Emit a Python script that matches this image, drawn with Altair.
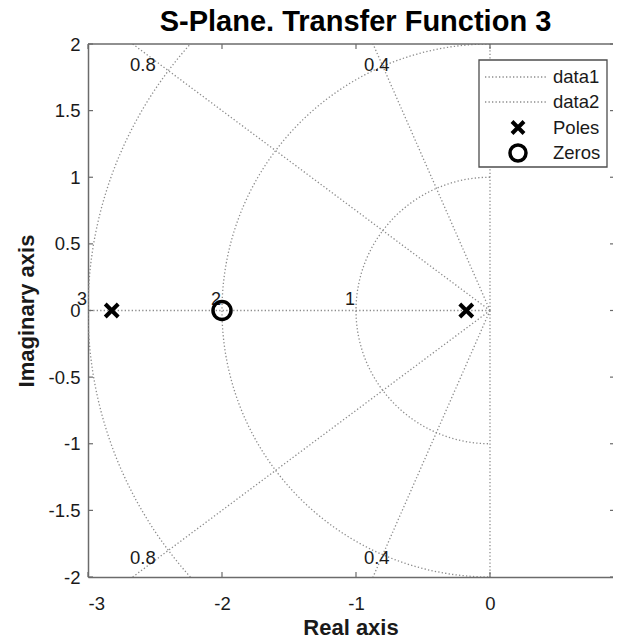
import numpy as np
import pandas as pd
import altair as alt

# ---- data ----
pole_re = [-2.823, -0.177]
pole_im = [0.0, 0.0]
zero_re = [-2.0]
zero_im = [0.0]

zeta_values = [0.4, 0.8]          # labelled damping lines
wn_values = [1, 2, 3]             # natural-frequency circles
x_ticks = [-3, -2, -1, 0]
y_ticks = [-2, -1.5, -1, -0.5, 0, 0.5, 1, 1.5, 2]

zeta_label_text = ["0.8", "0.4", "0.8", "0.4"]
zeta_label_x = [-2.59, -0.845, -2.59, -0.845]
zeta_label_y = [1.84, 1.84, -1.86, -1.86]

legend_labels = ["data1", "data2", "Poles", "Zeros"]

# ---- layout ----
W, H = 525, 533
FONT = "Liberation Sans"
GRID_COLOR = "#8c8c8c"
FRAME_COLOR = "#6b6b6b"
TXT = "#1a1a1a"

xs = alt.Scale(domain=[-3, 0.918], nice=False, zero=False)
ys = alt.Scale(domain=[-2, 2], nice=False, zero=False)

xaxis = alt.Axis(values=x_ticks, labelExpr="datum.value + ''", ticks=False, grid=False,
                 domainColor=FRAME_COLOR, domainWidth=1.5, labelFont=FONT, labelFontSize=18.5,
                 labelColor=TXT, labelPadding=17, titleFont=FONT, titleFontSize=22,
                 titleFontWeight="bold", titleColor=TXT, titleBaseline="alphabetic",
                 titleY=57)
yaxis = alt.Axis(values=y_ticks, labelExpr="datum.value + ''", ticks=False, grid=False,
                 domainColor=FRAME_COLOR, domainWidth=1.5, labelFont=FONT, labelFontSize=18.5,
                 labelColor=TXT, labelPadding=8, titleFont=FONT, titleFontSize=22,
                 titleFontWeight="bold", titleColor=TXT, titlePadding=10)

X = lambda f="x": alt.X(f"{f}:Q", scale=xs, axis=xaxis, title="Real axis")
Y = lambda f="y": alt.Y(f"{f}:Q", scale=ys, axis=yaxis, title="Imaginary axis")

# ---- s-plane grid geometry (sgrid) ----
rows = []
R = 6.0
for z in zeta_values:
    for s in (1, -1):
        g = f"z{z}{s}"
        rows.append(dict(x=0.0, y=0.0, g=g, o=0))
        rows.append(dict(x=-R * z, y=s * R * np.sqrt(1 - z * z), g=g, o=1))
for s in (1, -1):  # zeta = 0 (imaginary axis)
    rows.append(dict(x=0.0, y=0.0, g=f"v{s}", o=0))
    rows.append(dict(x=0.0, y=s * R, g=f"v{s}", o=1))
rows.append(dict(x=0.0, y=0.0, g="h", o=0))  # zeta = 1 (real axis)
rows.append(dict(x=-R, y=0.0, g="h", o=1))
th = np.linspace(np.pi / 2, 3 * np.pi / 2, 241)
for w in wn_values:
    for i, t in enumerate(th):
        rows.append(dict(x=w * np.cos(t), y=w * np.sin(t), g=f"w{w}", o=i))
grid_df = pd.DataFrame(rows)

grid = alt.Chart(grid_df).mark_line(clip=True, color=GRID_COLOR, strokeWidth=1.3,
                                    strokeDash=[1.3, 2.2]).encode(
    x=X(), y=Y(), detail="g:N", order="o:Q")

zl = pd.DataFrame({"t": zeta_label_text, "x": zeta_label_x, "y": zeta_label_y})
zeta_labels = alt.Chart(zl).mark_text(font=FONT, fontSize=18.5, color=TXT, baseline="middle").encode(
    x=X(), y=Y(), text="t:N")

wl = pd.DataFrame({"t": [str(w) for w in wn_values], "x": [-float(w) for w in wn_values],
                   "y": [0.0] * len(wn_values)})
wn_labels = alt.Chart(wl).mark_text(font=FONT, fontSize=18, color=TXT, baseline="bottom",
                                    dx=-6, dy=-2).encode(x=X(), y=Y(), text="t:N")

poles = alt.Chart(pd.DataFrame({"x": pole_re, "y": pole_im})).mark_point(
    shape="M-1,-1L1,1M1,-1L-1,1", size=169, strokeWidth=4, color="black", filled=False,
    opacity=1).encode(x=X(), y=Y())
zeros = alt.Chart(pd.DataFrame({"x": zero_re, "y": zero_im})).mark_point(
    shape="circle", size=324, strokeWidth=3.5, color="black", filled=False,
    opacity=1).encode(x=X(), y=Y())

# frame top and inward ticks
one = pd.DataFrame({"a": [0]})
top = alt.Chart(one).mark_rule(color=FRAME_COLOR, strokeWidth=1.5).encode(
    x=alt.value(0), x2=alt.value(W), y=alt.value(0))
xt = pd.DataFrame({"x": x_ticks})
yt = pd.DataFrame({"y": y_ticks})
tick_b = alt.Chart(xt).mark_rule(color=FRAME_COLOR, strokeWidth=1.2).encode(
    x=X(), y=alt.value(H), y2=alt.value(H - 5))
tick_t = alt.Chart(xt).mark_rule(color=FRAME_COLOR, strokeWidth=1.2).encode(
    x=X(), y=alt.value(0), y2=alt.value(5))
tick_l = alt.Chart(yt).mark_rule(color=FRAME_COLOR, strokeWidth=1.2).encode(
    y=Y(), x=alt.value(0), x2=alt.value(5))
tick_r = alt.Chart(yt).mark_rule(color=FRAME_COLOR, strokeWidth=1.2).encode(
    y=Y(), x=alt.value(W - 3), x2=alt.value(W))

# manual legend
LX0, LX1, LY0, LY1 = 391, 519, 16, 123
row_y = [33, 58, 83.5, 109]
leg = [alt.Chart(one).mark_rect(fill="white", stroke="#4d4d4d", strokeWidth=1.3).encode(
    x=alt.value(LX0), x2=alt.value(LX1), y=alt.value(LY0), y2=alt.value(LY1))]
for i in range(2):
    leg.append(alt.Chart(one).mark_rule(color=GRID_COLOR, strokeWidth=1.3,
                                        strokeDash=[1.3, 2.2]).encode(
        x=alt.value(397), x2=alt.value(459), y=alt.value(row_y[i])))
leg.append(alt.Chart(one).mark_point(shape="M-1,-1L1,1M1,-1L-1,1", size=144, strokeWidth=4,
                                     color="black", filled=False, opacity=1).encode(
    x=alt.value(430), y=alt.value(row_y[2])))
leg.append(alt.Chart(one).mark_point(shape="circle", size=256, strokeWidth=3.5,
                                     color="black", filled=False, opacity=1).encode(
    x=alt.value(430), y=alt.value(row_y[3])))
for i, lab in enumerate(legend_labels):
    leg.append(alt.Chart(one).mark_text(text=lab, font=FONT, fontSize=18.5, color=TXT,
                                        align="left", baseline="middle").encode(
        x=alt.value(465), y=alt.value(row_y[i])))

chart = alt.layer(grid, top, tick_b, tick_t, tick_l, tick_r, zeta_labels, wn_labels,
                  zeros, poles, *leg).properties(
    width=W, height=H,
    title=alt.TitleParams("S-Plane. Transfer Function 3", font=FONT, fontSize=29,
                          fontWeight="bold", color="black", anchor="middle", dx=5,
                          offset=8, dy=10),
    autosize=alt.AutoSizeParams(type="none"),
    padding={"left": 80, "top": 36, "right": 0, "bottom": 58},
).configure_view(strokeWidth=0)

chart.save("out.html", embed_options={"renderer": "svg", "actions": False})
